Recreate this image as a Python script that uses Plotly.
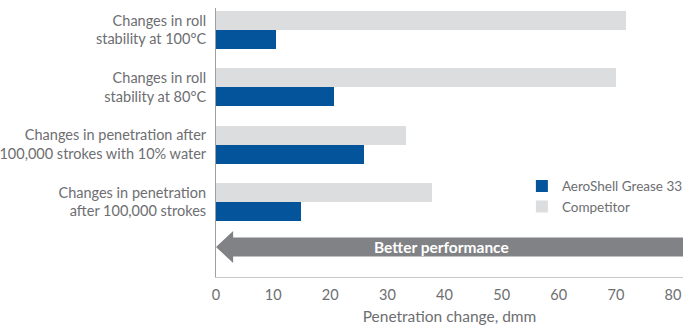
import plotly.graph_objects as go

categories = [
    "Changes in roll<br>stability at 100°C",
    "Changes in roll<br>stability at 80°C",
    "Changes in penetration after<br>100,000 strokes with 10% water",
    "Changes in penetration<br>after 100,000 strokes",
]
aeroshell = [10.5, 20.7, 25.9, 14.9]
competitor = [71.8, 70.0, 33.3, 37.8]
x_ticks = [0, 10, 20, 30, 40, 50, 60, 70, 80]

pos = list(range(len(categories)))
BLUE = "#03549A"
GREY = "#DCDDDF"
TXT = "#6D6E71"
FONT = "Lato, Open Sans, sans-serif"

fig = go.Figure()
fig.add_trace(go.Bar(
    y=pos, x=aeroshell, orientation="h", name="AeroShell Grease 33",
    marker=dict(color=BLUE, line=dict(width=0)), width=0.33, offset=0.0,
))
fig.add_trace(go.Bar(
    y=pos, x=competitor, orientation="h", name="Competitor",
    marker=dict(color=GREY, line=dict(width=0)), width=0.33, offset=-0.33,
))

# "Better performance" arrow (annotation graphic)
arrow_y = 3.787
body_h = 0.166
head_h = 0.28
head_len = 3.0
xmax = 81.75
path = (f"M 0 {arrow_y} L {head_len} {arrow_y - head_h} L {head_len} {arrow_y - body_h} "
        f"L {xmax} {arrow_y - body_h} L {xmax} {arrow_y + body_h} L {head_len} {arrow_y + body_h} "
        f"L {head_len} {arrow_y + head_h} Z")
fig.add_shape(type="path", path=path, xref="x", yref="y",
              fillcolor="#808285", line=dict(width=0), layer="above")
fig.add_annotation(x=39.5, y=arrow_y, xref="x", yref="y", text="<b>Better performance</b>",
                   showarrow=False, font=dict(color="white", size=15.5, family=FONT))

fig.update_layout(
    width=683, height=329,
    margin=dict(l=216, r=0, t=8, b=52, autoexpand=False),
    plot_bgcolor="white", paper_bgcolor="white",
    font=dict(family=FONT, color=TXT, size=14.5),
    showlegend=True,
    legend=dict(x=0.655, y=0.395, xanchor="left", yanchor="top",
                font=dict(size=13.5, color=TXT, family=FONT),
                bgcolor="rgba(0,0,0,0)", itemwidth=30, tracegroupgap=0),
    bargap=0, barmode="overlay",
)
fig.update_xaxes(
    range=[0, xmax], tickvals=x_ticks, showgrid=False, zeroline=False,
    showline=True, linecolor="#C8C8C8", linewidth=1, automargin=False,
    tickfont=dict(size=14.5, color=TXT), ticks="", ticklabelstandoff=5,
    title=dict(text="Penetration change, dmm", font=dict(size=15.5, color=TXT), standoff=8),
)
fig.update_yaxes(
    range=[4.311, -0.384], tickvals=pos, ticktext=categories, automargin=False,
    showgrid=False, zeroline=False, showline=True, linecolor="#A0A0A0", linewidth=1,
    tickfont=dict(size=14.5, color=TXT), ticks="", ticklabelstandoff=6,
)

fig.write_html("out.html")
